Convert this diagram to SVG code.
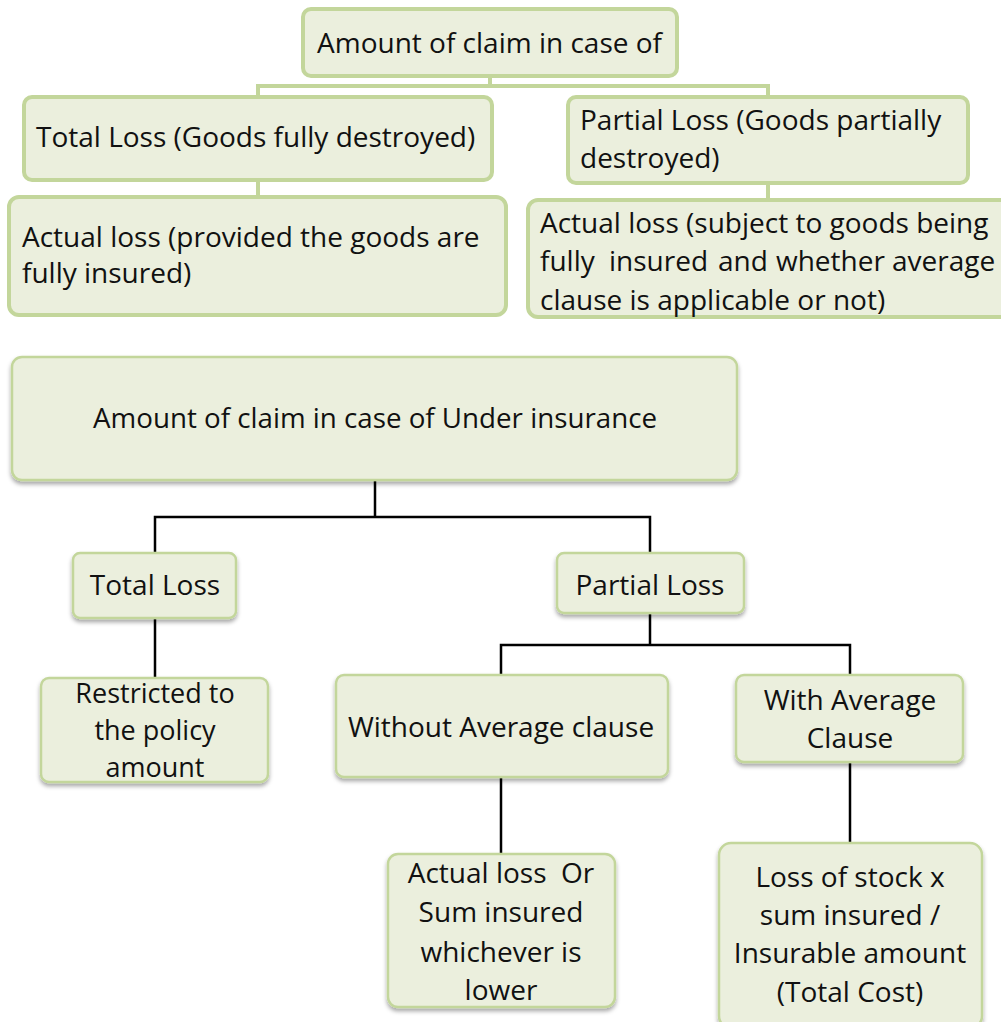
<svg xmlns="http://www.w3.org/2000/svg" width="1001" height="1022" viewBox="0 0 1001 1022">
<defs>
<style>
.tb{fill:#EBEFDD;stroke:#C3D69B;stroke-width:4}
.lb{fill:#EBEFDD;stroke:#C3D69B;stroke-width:2.5;filter:url(#sh)}
text{font-family:"Open Sans","Noto Sans","Liberation Sans",sans-serif;font-size:28px;fill:#111}
.c{text-anchor:middle}
.s{font-size:27px}
.gc{fill:none;stroke:#C3D69B;stroke-width:4}
.bc{fill:none;stroke:#000;stroke-width:2.5}
</style>
<filter id="sh" x="-10%" y="-10%" width="120%" height="130%">
<feDropShadow dx="0" dy="3" stdDeviation="2" flood-color="#000" flood-opacity="0.35"/>
</filter>
</defs>
<rect width="1001" height="1022" fill="#fff"/>
<g id="connectors">
<path class="gc" d="M490,77 V86 H258 V97 M490,86 H768 V97 M258,180 V197 M768,183 V200"/>
<path class="bc" d="M375,481 V517 H155 V553 M375,517 H650 V553 M155,618 V678 M650,613 V645 H501 V675 M650,645 H850 V675 M501,777 V854 M850,762 V843"/>
</g>
<g id="n1"><rect class="tb" x="303" y="9" width="374" height="67" rx="8"/><text x="317" y="53">Amount of claim in case of</text></g>
<g id="n2"><rect class="tb" x="24" y="97" width="468" height="83" rx="8"/><text x="36" y="147">Total Loss (Goods fully destroyed)</text></g>
<g id="n3"><rect class="tb" x="568" y="97" width="400" height="86" rx="8"/><text x="580" y="130">Partial Loss (Goods partially</text><text x="580" y="168">destroyed)</text></g>
<g id="n4"><rect class="tb" x="9" y="197" width="497" height="118" rx="10"/><text x="22" y="247">Actual loss (provided the goods are</text><text x="22" y="283">fully insured)</text></g>
<g id="n5"><rect class="tb" x="528" y="200" width="490" height="117" rx="10"/><text x="540" y="233">Actual loss (subject to goods being</text><text y="271"><tspan x="540">fully</tspan><tspan x="609">insured</tspan><tspan x="718">and</tspan><tspan x="776">whether</tspan><tspan x="892">average</tspan></text><text x="540" y="310">clause is applicable or not)</text></g>
<g id="n6"><rect class="lb" x="12" y="357" width="725" height="123" rx="10"/><text class="c" x="375" y="428" textLength="564" lengthAdjust="spacingAndGlyphs">Amount of claim in case of Under insurance</text></g>
<g id="n7"><rect class="lb" x="73" y="553" width="163" height="65" rx="7"/><text class="c" x="155" y="595">Total Loss</text></g>
<g id="n8"><rect class="lb" x="557" y="553" width="187" height="60" rx="7"/><text class="c" x="650" y="595">Partial Loss</text></g>
<g id="n9"><rect class="lb" x="41" y="678" width="227" height="104" rx="8"/><text class="c s" x="155" y="703">Restricted to</text><text class="c s" x="155" y="740">the policy</text><text class="c s" x="155" y="777">amount</text></g>
<g id="n10"><rect class="lb" x="336" y="675" width="332" height="102" rx="8"/><text class="c" x="501" y="737">Without Average clause</text></g>
<g id="n11"><rect class="lb" x="736" y="675" width="227" height="87" rx="8"/><text class="c" x="850" y="710">With Average</text><text class="c" x="850" y="748">Clause</text></g>
<g id="n12"><rect class="lb" x="388" y="854" width="227" height="153" rx="10"/><text class="c" x="501" y="883" xml:space="preserve">Actual loss  Or</text><text class="c" x="501" y="922">Sum insured</text><text class="c" x="501" y="962">whichever is</text><text class="c" x="501" y="1000">lower</text></g>
<g id="n13"><rect class="lb" x="719" y="843" width="263" height="185" rx="12"/><text class="c" x="850" y="887">Loss of stock x</text><text class="c" x="850" y="925">sum insured /</text><text class="c" x="850" y="963">Insurable amount</text><text class="c" x="850" y="1002">(Total Cost)</text></g>
</svg>
